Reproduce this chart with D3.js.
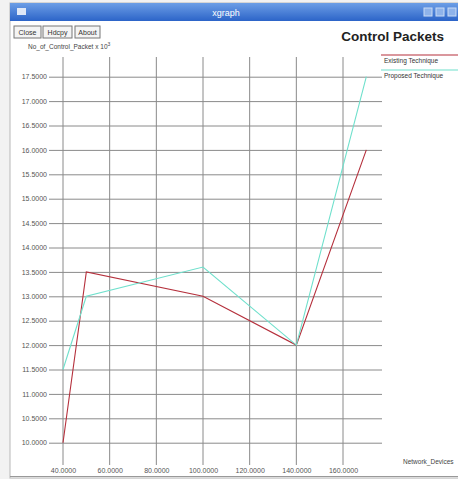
<!DOCTYPE html>
<meta charset="utf-8">
<style>
body { margin: 0; background: #f2f2f2; }
svg { display: block; font-family: "Liberation Sans", Arial, sans-serif; }
.grid line { stroke: #8a8a8a; stroke-width: 1; }
.tick text { font-size: 7px; fill: #555; }
</style>
<svg width="458" height="479"></svg>
<script src="https://d3js.org/d3.v7.min.js"></script>
<script>

var xTicks = [40, 60, 80, 100, 120, 140, 160];
var yTicks = [10.0, 10.5, 11.0, 11.5, 12.0, 12.5, 13.0, 13.5, 14.0, 14.5, 15.0, 15.5, 16.0, 16.5, 17.0, 17.5];

var devices = [40, 50, 100, 140, 170];
var existing = [10.0, 13.5, 13.0, 12.0, 16.0];
var proposed = [11.5, 13.0, 13.6, 12.0, 17.5];

var seriesNames = ["Existing Technique", "Proposed Technique"];
var seriesColors = ["#b5303c", "#6fe0cc"];

var svg = d3.select("svg");

// window frame
svg.append("rect").attr("x", 10).attr("y", 3).attr("width", 460).attr("height", 475)
    .attr("fill", "#fff").attr("stroke", "#b8b8b8");

var grad = svg.append("defs").append("linearGradient")
    .attr("id", "tb").attr("x1", 0).attr("y1", 0).attr("x2", 0).attr("y2", 1);
grad.append("stop").attr("offset", "0%").attr("stop-color", "#6c9ee6");
grad.append("stop").attr("offset", "100%").attr("stop-color", "#2c64c8");

svg.append("rect").attr("x", 10).attr("y", 3).attr("width", 450).attr("height", 18)
    .attr("fill", "url(#tb)");
svg.append("rect").attr("x", 17).attr("y", 8).attr("width", 9).attr("height", 7)
    .attr("fill", "#dfe8f7");
svg.append("text").attr("x", 226).attr("y", 15.5).attr("text-anchor", "middle")
    .attr("fill", "#fff").attr("font-size", 9).text("xgraph");
[428, 440, 452].forEach(function(x) {
  svg.append("rect").attr("x", x - 4).attr("y", 8).attr("width", 8).attr("height", 8)
      .attr("fill", "#8fb3ea").attr("stroke", "#c9dbf5");
});

// buttons
var buttons = [["Close", 14, 27], ["Hdcpy", 43, 29], ["About", 75, 25]];
buttons.forEach(function(b) {
  svg.append("rect").attr("x", b[1]).attr("y", 26).attr("width", b[2]).attr("height", 12)
      .attr("fill", "#f4f4f4").attr("stroke", "#777");
  svg.append("text").attr("x", b[1] + b[2] / 2).attr("y", 35).attr("text-anchor", "middle")
      .attr("font-size", 7).attr("fill", "#333").text(b[0]);
});

svg.append("text").attr("x", 444).attr("y", 41).attr("text-anchor", "end")
    .attr("font-size", 13.5).attr("font-weight", "bold").attr("fill", "#222").text("Control Packets");

var ylab = svg.append("text").attr("x", 28).attr("y", 49).attr("font-size", 6.5).attr("fill", "#444");
ylab.append("tspan").text("No_of_Control_Packet x 10");
ylab.append("tspan").attr("dy", -3).attr("font-size", 5).text("3");

var x = d3.scaleLinear().domain([40, 160]).range([63, 343]);
var y = d3.scaleLinear().domain([10, 17.5]).range([442.7, 76.7]);

// horizontal grid + labels
var yAxis = d3.axisLeft(y).tickValues(yTicks).tickFormat(d3.format(".4f"))
    .tickSize(-333).tickPadding(2);
var gy = svg.append("g").attr("class", "grid").attr("transform", "translate(49,0)").call(yAxis);
gy.select(".domain").remove();

// vertical grid
svg.append("g").attr("class", "grid").selectAll("line")
  .data(xTicks).enter().append("line")
    .attr("x1", function(d) { return x(d); }).attr("x2", function(d) { return x(d); })
    .attr("y1", 57).attr("y2", 465);

var gx = svg.append("g").attr("transform", "translate(0,465)")
    .call(d3.axisBottom(x).tickValues(xTicks).tickFormat(d3.format(".4f")).tickSize(0).tickPadding(3));
gx.select(".domain").remove();
gx.selectAll(".tick text").attr("font-size", 7).attr("fill", "#555");
gy.selectAll(".tick text").attr("font-size", 7).attr("fill", "#555");

svg.append("text").attr("x", 403).attr("y", 464).attr("font-size", 6.5).attr("fill", "#444")
    .text("Network_Devices");

// bottom frame
svg.append("line").attr("x1", 10).attr("x2", 458).attr("y1", 476.5).attr("y2", 476.5)
    .attr("stroke", "#999");

// lines
var line = d3.line().x(function(d) { return x(d[0]); }).y(function(d) { return y(d[1]); });
[existing, proposed].forEach(function(vals, i) {
  svg.append("path")
      .datum(devices.map(function(d, j) { return [d, vals[j]]; }))
      .attr("d", line).attr("fill", "none")
      .attr("stroke", seriesColors[i]).attr("stroke-width", 1.1);
});

// legend
seriesNames.forEach(function(n, i) {
  var ly = 55 + i * 15;
  svg.append("line").attr("x1", 381).attr("x2", 458).attr("y1", ly).attr("y2", ly)
      .attr("stroke", seriesColors[i]).attr("stroke-width", 1.1);
  svg.append("text").attr("x", 384).attr("y", ly + 7.5).attr("font-size", 6.5).attr("fill", "#333")
      .text(n);
});

</script>
